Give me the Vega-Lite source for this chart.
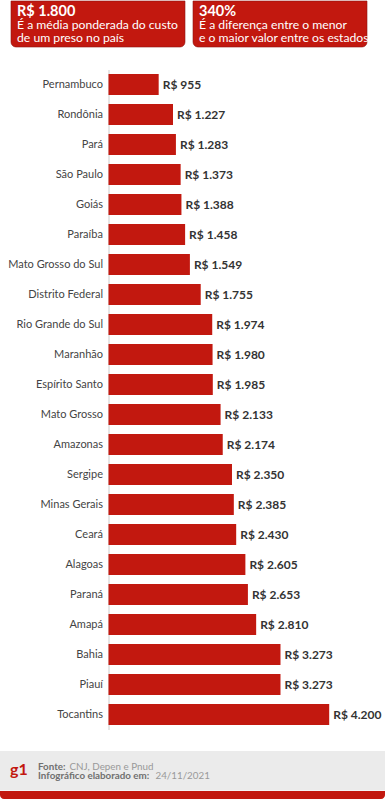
{
  "$schema": "https://vega.github.io/schema/vega-lite/v6.json",
  "background": "white",
  "padding": 0,
  "config": {
    "view": {"stroke": null},
    "font": "Lato",
    "locale": {
      "number": {"decimal": ",", "thousands": ".", "grouping": [3], "currency": ["R$ ", ""]}
    }
  },
  "bounds": "full",
  "spacing": 21.5,
  "vconcat": [
    {
      "width": 385,
      "height": 46,
      "data": {"values": [
        {"box": "media", "line": 1, "text": "R$ 1.800"},
        {"box": "media", "line": 2, "text": "É a média ponderada do custo"},
        {"box": "media", "line": 3, "text": "de um preso no país"},
        {"box": "dif", "line": 1, "text": "340%"},
        {"box": "dif", "line": 2, "text": "É a diferença entre o menor"},
        {"box": "dif", "line": 3, "text": "e o maior valor entre os estados"}
      ]},
      "layer": [
        {
          "transform": [{"filter": "datum.line == 1"}],
          "mark": {"type": "rect", "color": "#c2180f", "cornerRadiusBottomLeft": 5, "cornerRadiusBottomRight": 5, "stroke": "#8f1410", "strokeWidth": 0.6},
          "encoding": {
            "x": {"field": "box", "type": "nominal", "axis": null,
                  "scale": {"type": "band", "domain": ["media", "dif"], "range": [11, 367], "paddingInner": 0.044, "paddingOuter": 0}}
          }
        },
        {
          "transform": [{"filter": "datum.line == 1"}],
          "mark": {"type": "text", "align": "left", "baseline": "alphabetic", "dx": 6, "fontSize": 14.5, "fontWeight": "bold", "color": "white"},
          "encoding": {
            "x": {"field": "box", "type": "nominal", "bandPosition": 0},
            "y": {"field": "line", "type": "ordinal", "axis": null,
                  "scale": {"type": "point", "domain": [1, 2, 3], "range": [14.5, 40.5], "padding": 0}},
            "text": {"field": "text"}
          }
        },
        {
          "transform": [{"filter": "datum.line > 1"}],
          "mark": {"type": "text", "align": "left", "baseline": "alphabetic", "dx": 6, "fontSize": 12.2, "color": "white"},
          "encoding": {
            "x": {"field": "box", "type": "nominal", "bandPosition": 0},
            "y": {"field": "line", "type": "ordinal"},
            "text": {"field": "text"}
          }
        }
      ]
    },
    {
      "width": 385,
      "height": 660,
      "data": {"values": [
        {"estado": "Pernambuco", "custo": 955},
        {"estado": "Rondônia", "custo": 1227},
        {"estado": "Pará", "custo": 1283},
        {"estado": "São Paulo", "custo": 1373},
        {"estado": "Goiás", "custo": 1388},
        {"estado": "Paraíba", "custo": 1458},
        {"estado": "Mato Grosso do Sul", "custo": 1549},
        {"estado": "Distrito Federal", "custo": 1755},
        {"estado": "Rio Grande do Sul", "custo": 1974},
        {"estado": "Maranhão", "custo": 1980},
        {"estado": "Espírito Santo", "custo": 1985},
        {"estado": "Mato Grosso", "custo": 2133},
        {"estado": "Amazonas", "custo": 2174},
        {"estado": "Sergipe", "custo": 2350},
        {"estado": "Minas Gerais", "custo": 2385},
        {"estado": "Ceará", "custo": 2430},
        {"estado": "Alagoas", "custo": 2605},
        {"estado": "Paraná", "custo": 2653},
        {"estado": "Amapá", "custo": 2810},
        {"estado": "Bahia", "custo": 3273},
        {"estado": "Piauí", "custo": 3273},
        {"estado": "Tocantins", "custo": 4200}
      ]},
      "encoding": {
        "y": {
          "field": "estado", "type": "nominal", "sort": null,
          "scale": {"paddingInner": 0.3, "paddingOuter": 0.15},
          "axis": {
            "title": null, "offset": -108.5,
            "ticks": false, "labelPadding": 6, "labelFontSize": 11, "labelColor": "#444444",
            "labelFont": "Lato", "domainColor": "#cccccc", "domainWidth": 1
          }
        },
        "x": {
          "field": "custo", "type": "quantitative", "axis": null,
          "scale": {"domain": [0, 4200], "range": [108.5, 329.2], "nice": false, "zero": true}
        }
      },
      "layer": [
        {"mark": {"type": "bar", "color": "#c2180f"}},
        {
          "mark": {"type": "text", "align": "left", "baseline": "middle", "dx": 4, "fontSize": 12, "fontWeight": "bold", "color": "#333333"},
          "encoding": {"text": {"field": "custo", "type": "quantitative", "format": "$,.0f"}}
        }
      ]
    },
    {
      "spacing": 0,
      "vconcat": [
        {
          "width": 385,
          "height": 39.5,
          "view": {"fill": "#ebebeb", "stroke": null},
          "data": {"values": [
            {"col": "texto", "line": 1, "label": "Fonte:", "value": "CNJ, Depen e Pnud"},
            {"col": "texto", "line": 2, "label": "Infográfico elaborado em:", "value": "24/11/2021"},
            {"col": "logo", "line": 1, "label": "g1", "value": ""}
          ]},
          "layer": [
            {
              "transform": [{"filter": "datum.col == 'logo'"}],
              "mark": {"type": "text", "align": "left", "baseline": "middle", "fontSize": 16, "fontWeight": "bold", "color": "#c2180f", "dy": -1},
              "encoding": {
                "x": {"field": "col", "type": "nominal", "axis": null,
                      "scale": {"type": "point", "domain": ["logo", "texto"], "range": [10, 38], "padding": 0}},
                "text": {"field": "label"}
              }
            },
            {
              "transform": [{"filter": "datum.col == 'texto'"}],
              "mark": {"type": "text", "align": "left", "baseline": "alphabetic", "fontSize": 9.8, "fontWeight": "bold", "color": "#707070"},
              "encoding": {
                "x": {"field": "col", "type": "nominal"},
                "y": {"field": "line", "type": "ordinal", "axis": null,
                      "scale": {"type": "point", "domain": [1, 2], "range": [18.8, 27.8], "padding": 0}},
                "text": {"field": "label"}
              }
            },
            {
              "transform": [{"filter": "datum.col == 'texto' && datum.line == 1"}],
              "mark": {"type": "text", "align": "left", "baseline": "alphabetic", "fontSize": 9.8, "color": "#999999", "dx": 31.5},
              "encoding": {
                "x": {"field": "col", "type": "nominal"},
                "y": {"field": "line", "type": "ordinal"},
                "text": {"field": "value"}
              }
            },
            {
              "transform": [{"filter": "datum.col == 'texto' && datum.line == 2"}],
              "mark": {"type": "text", "align": "left", "baseline": "alphabetic", "fontSize": 9.8, "color": "#999999", "dx": 117.5},
              "encoding": {
                "x": {"field": "col", "type": "nominal"},
                "y": {"field": "line", "type": "ordinal"},
                "text": {"field": "value"}
              }
            }
          ]
        },
        {
          "width": 385,
          "height": 8,
          "data": {"values": [{"faixa": "rodapé"}]},
          "mark": {"type": "rect", "color": "#c2180f", "cornerRadiusBottomLeft": 8, "cornerRadiusBottomRight": 8},
          "encoding": {}
        }
      ]
    }
  ]
}
